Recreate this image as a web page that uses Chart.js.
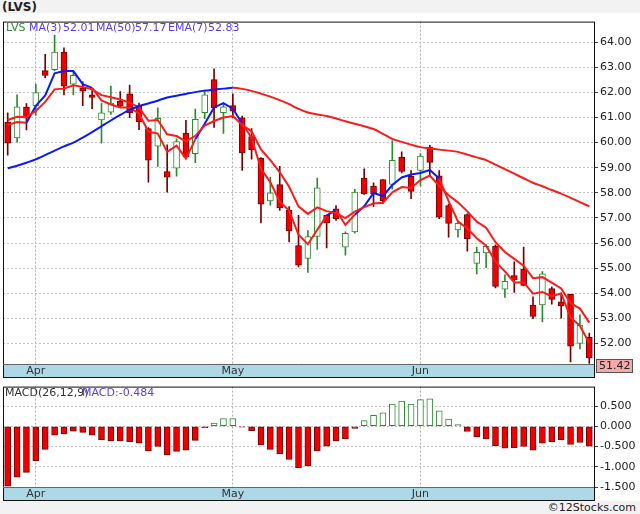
<!DOCTYPE html>
<html lang="en">
<head>
<meta charset="UTF-8">
<title>LVS</title>
<script src="https://cdn.jsdelivr.net/npm/chart.js"></script>
<style>
  body { margin: 0; background: #f2f2f2; width: 640px; height: 514px; position: relative; overflow: hidden; font-family: "DejaVu Sans", sans-serif; }
  #title { position: absolute; left: 2px; top: 0px; font-size: 12px; font-weight: bold; color: #222; }
  .box { position: absolute; left: 0; width: 640px; }
  #priceBox { top: 13px; height: 365px; }
  #macdBox { top: 378px; height: 123px; }
  #copy { position: absolute; right: 4px; bottom: 0px; font-size: 11px; color: #222; }
</style>
</head>
<body>
<div id="title">(LVS)</div>
<div class="box" id="priceBox"><canvas id="price"></canvas></div>
<div class="box" id="macdBox"><canvas id="macd"></canvas></div>
<div id="copy">&copy;12Stocks.com</div>

<script>
// month labels (only where a month starts)
const labels = Array(63).fill('');
labels[3] = 'Apr'; labels[24] = 'May'; labels[44] = 'Jun';

const opens  = [60.82,60.19,61.41,61.47,62.87,62.91,63.61,62.33,62.18,61.90,60.90,61.21,61.64,61.94,61.47,60.56,59.86,58.85,58.98,60.38,59.56,61.19,62.51,61.19,61.47,60.99,60.24,59.37,57.68,58.33,57.30,55.90,55.39,56.26,57.10,57.36,55.83,56.44,58.59,58.27,58.53,58.33,59.42,58.66,58.89,59.82,58.68,57.49,56.52,57.13,55.19,55.61,55.87,54.16,54.70,54.96,53.53,53.53,54.18,53.66,53.96,52.00,52.24];
const highs  = [61.19,61.90,61.55,62.33,63.52,64.27,63.78,62.81,62.42,62.07,61.57,62.25,62.03,62.29,61.57,60.60,61.38,59.91,60.15,60.89,61.34,62.09,62.94,61.55,61.94,61.06,60.56,59.40,58.63,59.05,57.45,57.10,56.49,58.59,57.12,57.49,56.45,58.14,58.95,58.40,58.53,60.08,59.63,58.89,59.56,59.89,58.89,57.55,56.84,57.16,55.84,55.93,55.93,54.73,55.25,55.84,53.86,54.86,54.25,53.99,53.96,53.14,52.41];
const lows   = [59.50,60.02,60.50,61.08,62.59,62.87,61.90,61.90,61.47,61.35,59.98,61.12,61.42,60.99,60.51,58.42,59.05,58.03,58.66,59.37,59.20,60.95,60.60,60.37,60.99,58.89,59.34,56.80,57.51,57.30,56.04,55.05,54.83,55.74,55.80,56.90,55.52,56.39,57.94,57.45,57.58,58.14,58.79,57.77,58.27,58.72,56.97,56.23,56.23,55.67,54.77,55.02,54.21,53.83,54.03,54.29,52.99,52.86,53.56,53.01,51.26,51.78,51.20];
const closes = [59.98,61.42,60.97,61.99,62.68,63.61,62.25,62.68,62.05,61.80,61.19,61.57,61.45,61.19,60.82,59.30,60.97,58.62,60.04,59.43,60.93,61.90,61.38,61.42,61.25,59.60,59.72,57.55,58.00,57.40,56.48,55.12,56.26,58.20,56.80,56.97,56.39,58.03,57.97,57.97,57.68,59.29,58.85,58.05,59.46,59.21,57.03,56.78,56.78,56.17,55.63,55.87,54.27,54.47,54.54,54.31,53.08,54.77,53.75,53.49,51.89,52.73,51.42];

const ma3  = [60.70,60.82,60.79,61.46,61.88,62.76,62.85,62.85,62.33,62.18,61.68,61.52,61.40,61.40,61.15,60.44,60.36,59.63,59.88,59.36,60.13,60.75,61.40,61.57,61.35,60.76,60.19,58.96,58.42,57.65,57.29,56.33,55.95,56.53,57.09,57.32,56.72,57.13,57.46,57.99,57.87,58.31,58.61,58.73,58.79,58.91,58.57,57.67,56.86,56.58,56.19,55.89,55.26,54.87,54.43,54.44,53.98,54.05,53.87,54.00,53.04,52.70,52.01];
const ema7 = [60.90,61.03,61.02,61.26,61.62,62.12,62.15,62.28,62.22,62.12,61.89,61.81,61.72,61.59,61.40,60.87,60.90,60.33,60.26,60.05,60.27,60.68,60.86,61.00,61.06,60.70,60.45,59.73,59.30,58.82,58.24,57.46,57.16,57.42,57.27,57.19,56.99,57.25,57.43,57.57,57.60,58.02,58.23,58.19,58.51,58.69,58.27,57.90,57.62,57.26,56.85,56.61,56.03,55.64,55.37,55.10,54.60,54.64,54.42,54.19,53.61,53.39,52.83];
const ma50 = [58.98,59.08,59.20,59.33,59.50,59.68,59.85,60.00,60.20,60.42,60.65,60.88,61.10,61.30,61.45,61.56,61.67,61.80,61.87,61.94,62.01,62.07,62.11,62.15,62.18,62.14,62.06,61.95,61.83,61.69,61.53,61.34,61.20,61.12,61.06,60.96,60.85,60.75,60.65,60.54,60.35,60.15,60.03,59.92,59.82,59.77,59.72,59.68,59.63,59.52,59.41,59.30,59.12,58.94,58.76,58.58,58.40,58.26,58.11,57.97,57.80,57.63,57.46];

const macdHist = [-1.48,-1.26,-1.14,-0.85,-0.57,-0.22,-0.19,-0.12,-0.15,-0.22,-0.34,-0.36,-0.36,-0.38,-0.42,-0.61,-0.50,-0.71,-0.62,-0.59,-0.35,-0.04,0.08,0.19,0.19,-0.02,-0.11,-0.46,-0.57,-0.68,-0.82,-1.02,-0.98,-0.61,-0.49,-0.36,-0.31,-0.05,0.14,0.27,0.33,0.55,0.62,0.55,0.66,0.68,0.38,0.18,0.04,-0.13,-0.26,-0.31,-0.48,-0.54,-0.53,-0.50,-0.59,-0.42,-0.38,-0.34,-0.45,-0.40,-0.49];

const priceTicks = [52,53,54,55,56,57,58,59,60,61,62,63,64];
const macdTicks = [-1.5,-1.0,-0.5,0,0.5];

const GREEN = '#2e8b2e', RED = '#ee0000', DARKRED = '#7a0000', BLUE = '#0a1aff', LINERED = '#ff1a1a';
const up = closes.map((c, i) => c >= opens[i]);
const FONT = { family: 'DejaVu Sans', size: 11 };

function panelPlugin(id, drawExtra) {
  return {
    id,
    beforeDraw(chart) {
      const { ctx, chartArea: a, scales: { x } } = chart;
      ctx.save();
      ctx.fillStyle = '#fff';
      ctx.fillRect(0, 0, chart.width, chart.height);
      ctx.fillStyle = '#add8e6';
      ctx.fillRect(a.left, x.top, a.right - a.left, x.bottom - x.top);
      ctx.restore();
    },
    afterDraw(chart) {
      const { ctx, chartArea: a, scales: { x } } = chart;
      ctx.save();
      ctx.strokeStyle = '#111';
      ctx.lineWidth = 1;
      ctx.strokeRect(a.left + 0.5, a.top + 0.5, a.right - a.left, x.bottom - a.top - 1);
      ctx.strokeStyle = '#666';
      ctx.beginPath(); ctx.moveTo(a.left, a.bottom + 0.5); ctx.lineTo(a.right, a.bottom + 0.5); ctx.stroke();
      drawExtra(chart);
      ctx.restore();
    }
  };
}

function xScale() {
  return {
    type: 'category',
    offset: true,
    grid: { color: c => labels[c.index] ? '#b0b0b0' : 'rgba(0,0,0,0)', drawTicks: false, offset: false },
    border: { display: false, dash: [2, 2] },
    ticks: { autoSkip: false, maxRotation: 0, padding: 1, color: '#333', font: { family: 'DejaVu Sans', size: 11 } },
    afterFit: s => { s.height = 14; }
  };
}

function yScale(min, max, keep, fmt) {
  return {
    position: 'right', min, max,
    afterBuildTicks: s => { s.ticks = keep.map(v => ({ value: v })); },
    grid: { color: '#c4c4c4', tickLength: 4, tickColor: '#444' },
    border: { display: false, dash: [2, 2] },
    ticks: { color: '#222', padding: 2, font: FONT, callback: fmt },
    afterFit: s => { s.width = 46; }
  };
}

new Chart(document.getElementById('price'), {
  data: {
    labels,
    datasets: [
      { type: 'line', data: ma50, borderWidth: 2, pointRadius: 0, tension: 0.3,
        segment: { borderColor: c => c.p1.parsed.y >= c.p0.parsed.y ? BLUE : LINERED }, order: 0 },
      { type: 'line', data: ema7, borderColor: LINERED, borderWidth: 2, pointRadius: 0, order: 0 },
      { type: 'line', data: ma3, borderWidth: 2, pointRadius: 0,
        segment: { borderColor: c => ma3[c.p1DataIndex] >= ema7[c.p1DataIndex] ? BLUE : LINERED }, order: 0 },
      { type: 'bar', data: closes.map((c, i) => [Math.min(c, opens[i]), Math.max(c, opens[i])]),
        backgroundColor: up.map(u => u ? '#fff' : RED), borderColor: up.map(u => u ? GREEN : DARKRED),
        borderWidth: 1, borderSkipped: false, barThickness: 6, grouped: false, order: 1 },
      { type: 'bar', data: highs.map((h, i) => [lows[i], h]),
        backgroundColor: up.map(u => u ? GREEN : DARKRED), barThickness: 1, grouped: false, order: 2 }
    ]
  },
  options: {
    responsive: true, maintainAspectRatio: false, animation: false,
    layout: { padding: { left: 3, right: 0, top: 0, bottom: 0 } },
    plugins: { legend: { display: false }, tooltip: { enabled: false } },
    scales: { x: xScale(), y: yScale(51.18, 64.82, priceTicks, v => v.toFixed(2)) }
  },
  plugins: [panelPlugin('pricePanel', chart => {
    const { ctx, chartArea: a, scales: { x } } = chart;
    ctx.font = '11px "DejaVu Sans"';
    ctx.textBaseline = 'middle';
    const y = a.top + 7;
    const parts = [['LVS', GREEN, 6], ['MA(3)', '#5a3cf0', 29], ['52.01', '#5a3cf0', 63], ['MA(50)', '#5a3cf0', 96],
                   ['57.17', '#5a3cf0', 135], ['EMA(7)', '#5a3cf0', 168], ['52.83', '#5a3cf0', 208]];
    parts.forEach(([t, c, px]) => { ctx.fillStyle = c; ctx.fillText(t, px, y); });
    // last price tag
    ctx.fillStyle = '#f6a9a9';
    ctx.fillRect(a.right + 2, x.top - 5, 37, 14);
    ctx.strokeStyle = '#555';
    ctx.strokeRect(a.right + 2.5, x.top - 4.5, 36, 13);
    ctx.fillStyle = '#222';
    ctx.fillText('51.42', a.right + 5, x.top + 2);
  })]
});

new Chart(document.getElementById('macd'), {
  data: {
    labels,
    datasets: [
      { type: 'bar', data: macdHist,
        backgroundColor: macdHist.map(v => v >= 0 ? '#fff' : RED),
        borderColor: macdHist.map(v => v >= 0 ? GREEN : DARKRED),
        borderWidth: 1, borderSkipped: false, barThickness: 6 }
    ]
  },
  options: {
    responsive: true, maintainAspectRatio: false, animation: false,
    layout: { padding: { left: 3, right: 0, top: 0, bottom: 0 } },
    plugins: { legend: { display: false }, tooltip: { enabled: false } },
    scales: { x: xScale(), y: yScale(-1.5, 0.98, macdTicks, v => v.toFixed(3)) }
  },
  plugins: [panelPlugin('macdPanel', chart => {
    const { ctx, chartArea: a } = chart;
    ctx.font = '11px "DejaVu Sans"';
    ctx.textBaseline = 'middle';
    ctx.fillStyle = '#333';
    ctx.fillText('MACD(26,12,9)', 5, a.top + 7);
    ctx.fillStyle = '#5a3cf0';
    ctx.fillText('MACD:-0.484', 82, a.top + 7);
  })]
});
</script>
</body>
</html>
